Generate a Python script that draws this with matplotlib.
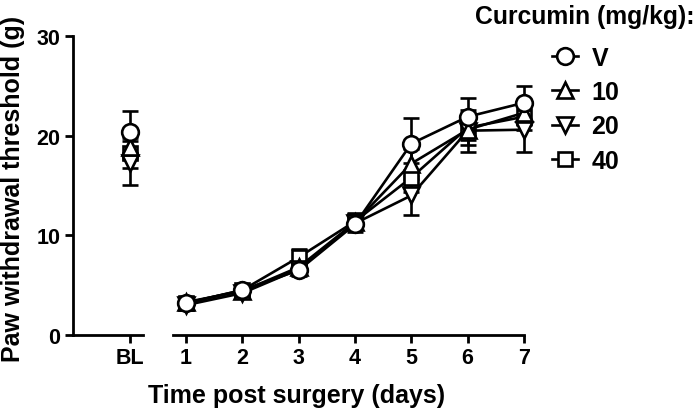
import matplotlib.pyplot as plt
from matplotlib.lines import Line2D
import numpy as np

plt.rcParams['font.family'] = ['Liberation Sans', 'DejaVu Sans']
plt.rcParams['font.weight'] = 'bold'

# data
days = [1, 2, 3, 4, 5, 6, 7]
groups = ["V", "10", "20", "40"]
markers = {"V": "o", "10": "^", "20": "v", "40": "s"}
msizes = {"V": 12, "10": 11, "20": 11, "40": 10}

bl_mean = {"V": 20.4, "10": 18.9, "20": 17.3, "40": 18.3}
bl_err = {"V": 2.1, "10": 1.2, "20": 2.2, "40": 1.5}

mean = {
    "V":  [3.2, 4.5, 6.5, 11.1, 19.2, 21.9, 23.3],
    "10": [3.3, 4.4, 6.8, 11.3, 17.2, 20.6, 22.3],
    "20": [3.0, 4.2, 6.6, 11.2, 14.0, 20.5, 20.6],
    "40": [3.2, 4.5, 7.8, 11.4, 15.8, 20.8, 21.9],
}
err = {
    "V":  [0.4, 0.5, 0.6, 0.8, 2.6, 1.9, 1.7],
    "10": [0.5, 0.4, 0.5, 0.7, 1.5, 1.5, 1.2],
    "20": [0.5, 0.5, 0.5, 0.6, 2.0, 2.1, 2.2],
    "40": [0.4, 0.4, 0.8, 0.8, 1.5, 1.2, 1.3],
}

W, H = 698, 414
fig = plt.figure(figsize=(W / 100, H / 100), dpi=100)

unit = 56.3  # px per day
y0, y1 = 336, 37
axL = fig.add_axes([73 / W, (H - y0) / H, (143 - 73) / W, (y0 - y1) / H])
axR = fig.add_axes([173 / W, (H - y0) / H, (524 - 173) / W, (y0 - y1) / H])

lw = 1.9
style = dict(color="black", mfc="white", mec="black", mew=1.9, lw=lw,
             elinewidth=lw, capsize=6, capthick=lw)

for g in ["40", "20", "10", "V"]:
    for ax, x, y, e in ((axL, [0], [bl_mean[g]], [bl_err[g]]),
                        (axR, days, mean[g], err[g])):
        cont = ax.errorbar(x, y, yerr=e, marker=markers[g], ms=msizes[g], **style)
        for art in cont.get_children():
            art.set_clip_on(False)

axL.set_xlim(-(130 - 73) / unit, (143 - 130) / unit)
axR.set_xlim(1 - (186 - 173) / unit, 7)
for ax in (axL, axR):
    ax.set_ylim(0, 30)
    ax.spines["top"].set_visible(False)
    ax.spines["right"].set_visible(False)
    for s in ax.spines.values():
        s.set_linewidth(2)
    ax.tick_params(width=2, length=6, labelsize=15.5, pad=3)

axL.set_xticks([0])
axL.set_xticklabels(["BL"], fontweight="bold")
axL.set_yticks([0, 10, 20, 30])
axL.set_yticklabels(["0", "10", "20", "30"], fontweight="bold")
axR.set_xticks(days)
axR.set_xticklabels([str(d) for d in days], fontweight="bold")
axR.spines["left"].set_visible(False)
axR.tick_params(axis="y", left=False, labelleft=False)

fig.text(13 / W, 1 - 189 / H, "Paw withdrawal threshold (g)", fontsize=18,
         fontweight="bold", ha="center", va="center", rotation=90)
fig.text(297 / W, 1 - 396 / H, "Time post surgery (days)", fontsize=18,
         fontweight="bold", ha="center", va="center")

# legend
fig.text(475 / W, 1 - 17 / H, "Curcumin (mg/kg):", fontsize=17.8,
         fontweight="bold", ha="left", va="center")
handles = [Line2D([], [], color="black", lw=lw, marker=markers[g], ms=msizes[g],
                  mfc="white", mec="black", mew=1.9) for g in groups]
fig.legend(handles, groups, loc="upper left", bbox_to_anchor=(529 / W, 1 - 24 / H),
           frameon=False, prop={"size": 18, "weight": "bold"}, handlelength=1.05,
           handletextpad=0.55, labelspacing=0.42)

fig.savefig("out.png", dpi=100)
